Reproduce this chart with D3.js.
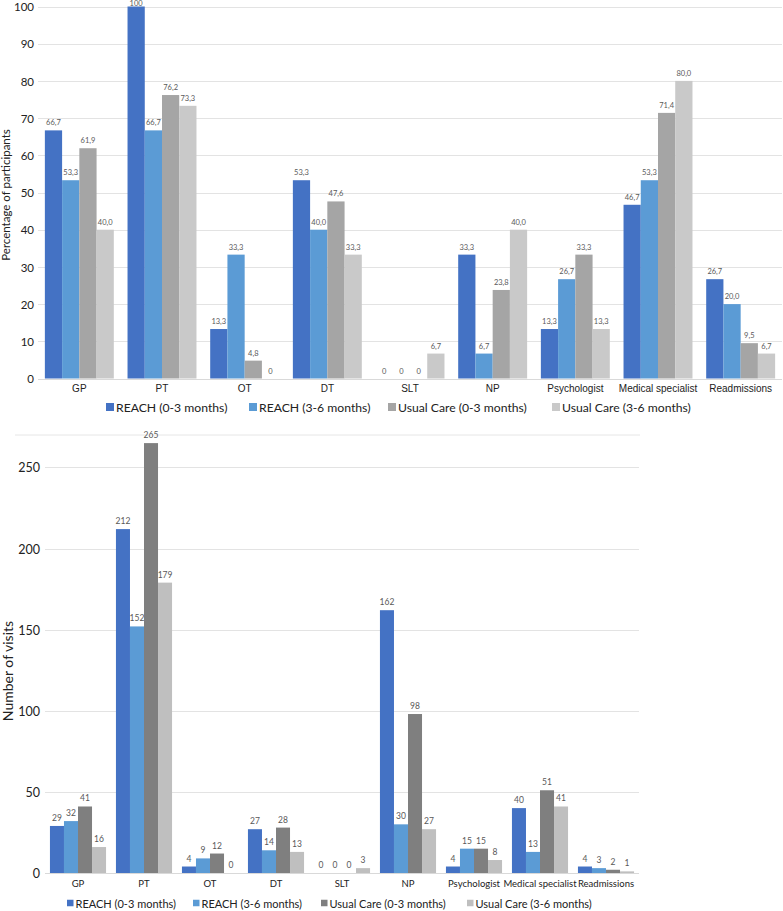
<!DOCTYPE html>
<html>
<head>
<meta charset="utf-8">
<script src="https://cdn.jsdelivr.net/npm/d3@7"></script>
<style>
  html, body { margin: 0; padding: 0; background: #fff; }
  svg { display: block; }
</style>
</head>
<body>
<svg id="chart" width="783" height="911"></svg>
<script>
// ---------- DATA ----------
const categories = ["GP", "PT", "OT", "DT", "SLT", "NP", "Psychologist", "Medical specialist", "Readmissions"];
const seriesNames = ["REACH (0-3 months)", "REACH (3-6 months)", "Usual Care (0-3 months)", "Usual Care (3-6 months)"];

// Top chart: percentage of participants
const pctReach03 = [66.7, 100, 13.3, 53.3, 0, 33.3, 13.3, 46.7, 26.7];
const pctReach36 = [53.3, 66.7, 33.3, 40.0, 0, 6.7, 26.7, 53.3, 20.0];
const pctUsual03 = [61.9, 76.2, 4.8, 47.6, 0, 23.8, 33.3, 71.4, 9.5];
const pctUsual36 = [40.0, 73.3, 0, 33.3, 6.7, 40.0, 13.3, 80.0, 6.7];
const pctTicks = [0, 10, 20, 30, 40, 50, 60, 70, 80, 90, 100];

// Bottom chart: number of visits
const visReach03 = [29, 212, 4, 27, 0, 162, 4, 40, 4];
const visReach36 = [32, 152, 9, 14, 0, 30, 15, 13, 3];
const visUsual03 = [41, 265, 12, 28, 0, 98, 15, 51, 2];
const visUsual36 = [16, 179, 0, 13, 3, 27, 8, 41, 1];
const visTicks = [0, 50, 100, 150, 200, 250];

const topColors = ["#4472C4", "#5B9BD5", "#A5A5A5", "#C9C9C9"];
const botColors = ["#4472C4", "#5B9BD5", "#7F7F7F", "#BFBFBF"];

const svg = d3.select("#chart");
const FONT = "Lato, 'Open Sans', sans-serif";

function fmtComma(v) {
  if (v === 0 || v === 100) return String(v);
  return v.toFixed(1).replace(".", ",");
}

function drawChart(cfg) {
  const g = svg.append("g");
  const x0 = d3.scaleBand().domain(categories).range([cfg.left, cfg.right])
    .paddingInner(cfg.padIn).paddingOuter(cfg.padOut);
  const x1 = d3.scaleBand().domain(d3.range(4)).range([0, x0.bandwidth()]);
  const y = d3.scaleLinear().domain(cfg.domain).range([cfg.bottom, cfg.top]);

  if (cfg.topBorder) {
    g.append("line").attr("x1", cfg.topBorder[0]).attr("x2", cfg.topBorder[1])
      .attr("y1", y(cfg.domain[1])).attr("y2", y(cfg.domain[1]))
      .attr("stroke", "#E6E6E6").attr("stroke-width", 1);
  }
  g.append("g").selectAll("line").data(cfg.ticks.filter(t => t > 0)).join("line")
    .attr("x1", cfg.gridLeft).attr("x2", cfg.right)
    .attr("y1", d => Math.round(y(d)) + 0.5).attr("y2", d => Math.round(y(d)) + 0.5)
    .attr("stroke", "#E3E3E3").attr("stroke-width", 1);

  const yAxis = d3.axisLeft(y).tickValues(cfg.ticks).tickSize(0).tickPadding(0);
  const ya = g.append("g").attr("transform", `translate(${cfg.tickX},0)`).call(yAxis);
  ya.select(".domain").remove();
  ya.selectAll("text").attr("font-family", FONT).attr("font-size", cfg.tickFont)
    .attr("fill", "#222").attr("dy", "0.36em");

  cfg.series.forEach((vals, si) => {
    g.append("g").selectAll("rect").data(vals).join("rect")
      .attr("x", (d, i) => x0(categories[i]) + x1(si))
      .attr("width", x1.bandwidth())
      .attr("y", d => y(d))
      .attr("height", d => y(0) - y(d))
      .attr("fill", cfg.colors[si]);
    g.append("g").selectAll("text").data(vals).join("text")
      .attr("x", (d, i) => x0(categories[i]) + x1(si) + x1.bandwidth() / 2)
      .attr("y", d => Math.max(y(d) - cfg.labelGap, cfg.valFont * 0.75))
      .attr("text-anchor", "middle")
      .attr("font-family", FONT).attr("font-size", cfg.valFont)
      .attr("fill", "#595959")
      .text(d => cfg.fmt(d));
  });

  g.append("line").attr("x1", cfg.gridLeft).attr("x2", cfg.right)
    .attr("y1", Math.round(y(0)) + 0.5).attr("y2", Math.round(y(0)) + 0.5)
    .attr("stroke", "#D9D9D9").attr("stroke-width", 1);

  const xAxis = d3.axisBottom(x0).tickSize(0).tickPadding(0);
  const xa = g.append("g").attr("transform", `translate(0,${cfg.catY})`).call(xAxis);
  xa.select(".domain").remove();
  xa.selectAll("text").attr("font-family", cfg.catFamily).attr("font-size", cfg.catFont)
    .attr("fill", "#222").attr("dy", "0");

  g.append("text")
    .attr("transform", `translate(${cfg.titleX},${cfg.titleY}) rotate(-90)`)
    .attr("text-anchor", "middle")
    .attr("font-family", FONT).attr("font-size", cfg.titleFont).attr("fill", "#222")
    .text(cfg.title);

  const lg = g.append("g");
  seriesNames.forEach((name, i) => {
    const lx = cfg.legendX[i];
    lg.append("rect").attr("x", lx).attr("y", cfg.legendY - cfg.markSize / 2 - 1)
      .attr("width", cfg.markSize).attr("height", cfg.markSize).attr("fill", cfg.colors[i]);
    lg.append("text").attr("x", lx + cfg.markSize + 2).attr("y", cfg.legendY)
      .attr("dy", "0.35em")
      .attr("font-family", FONT).attr("font-size", cfg.legendFont).attr("fill", "#222")
      .text(name);
  });
}

drawChart({
  left: 38, right: 782, gridLeft: 38, top: 6.5, bottom: 378.5,
  padIn: 0.166, padOut: 0.083,
  domain: [0, 100], ticks: pctTicks, tickX: 34, tickFont: 11.5,
  series: [pctReach03, pctReach36, pctUsual03, pctUsual36], colors: topColors,
  valFont: 7.5, labelGap: 5, fmt: fmtComma,
  catY: 392, catFont: 10, catFamily: "'Liberation Sans', Arial, sans-serif",
  title: "Percentage of participants", titleX: 10, titleY: 195, titleFont: 11.5,
  legendX: [106, 249, 388, 552], legendY: 408, markSize: 8, legendFont: 12.2
});

drawChart({
  left: 45, right: 639, gridLeft: 45, top: 435, bottom: 873,
  padIn: 0.15, padOut: 0.075, topBorder: [15, 640],
  domain: [0, 270], ticks: visTicks, tickX: 40, tickFont: 12.5,
  series: [visReach03, visReach36, visUsual03, visUsual36], colors: botColors,
  valFont: 8.5, labelGap: 5, fmt: d => String(d),
  catY: 887, catFont: 9.5, catFamily: FONT,
  title: "Number of visits", titleX: 13, titleY: 671, titleFont: 14,
  legendX: [67, 193, 321, 467], legendY: 904, markSize: 6.5, legendFont: 11
});
</script>
</body>
</html>
